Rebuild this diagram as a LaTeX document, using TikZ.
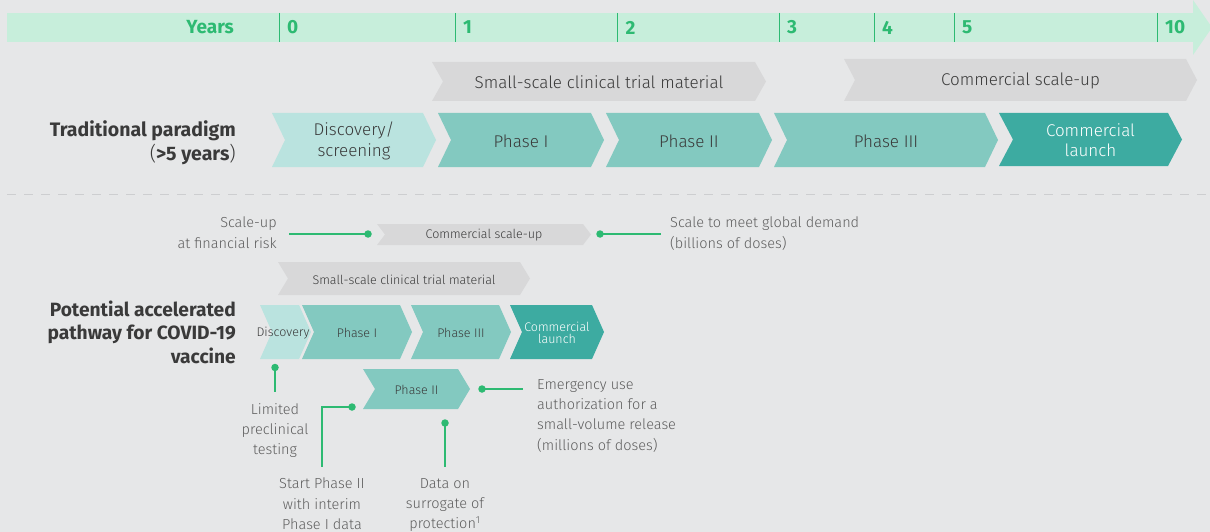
\documentclass[tikz,border=0pt]{standalone}
\usepackage{fontspec}
\setmainfont{Fira Sans}[UprightFont={* Light},BoldFont={* Bold}]
\definecolor{bg}{HTML}{E6E7E8}
\definecolor{mint}{HTML}{C7EEDB}
\definecolor{grn}{HTML}{2DBA72}
\definecolor{chgray}{HTML}{D8D8D9}
\definecolor{disc}{HTML}{BAE3DF}
\definecolor{phase}{HTML}{83C9C0}
\definecolor{launch}{HTML}{3DABA1}
\definecolor{txt}{HTML}{3A3A3A}
\definecolor{lbl}{HTML}{5E5E5E}
\definecolor{dashc}{HTML}{CDCED0}
\newcommand{\chevron}[9]{%
  \fill[#7] (#2,#4) -- ({#3-#6},#4) -- (#3,{(#4+#5)/2}) -- ({#3-#6},#5) -- (#2,#5) -- ({#2+#6},{(#4+#5)/2}) -- cycle;
  \node[#8] (#1) at ({(#2+#3)/2},{(#4+#5)/2+1}) {#9};}
\tikzset{
  bigtxt/.style={text=txt,font=\fontsize{17}{21}\selectfont,align=center,inner sep=0pt},
  whitetxt/.style={text=white,font=\fontsize{17}{20}\selectfont,align=center,inner sep=0pt},
  smalltxt/.style={text=txt,font=\fontsize{12.5}{14}\selectfont,align=center,inner sep=0pt},
  smallwhite/.style={text=white,font=\fontsize{12.5}{14}\selectfont,align=center,inner sep=0pt},
  yearlbl/.style={text=grn,font=\bfseries\fontsize{19}{20}\selectfont,inner sep=0pt},
  tick/.style={draw=grn,line width=1pt},
  rowlbl/.style={text=txt,font=\fontsize{19.5}{24.5}\selectfont,align=right,inner sep=0pt},
  note/.style={text=lbl,font=\fontsize{14.5}{20.3}\selectfont,inner sep=0pt},
  gline/.style={draw=grn,line width=1.2pt},
  gdot/.style={circle,fill=grn,inner sep=0pt,minimum size=7.5pt},
}
\begin{document}
\begin{tikzpicture}[x=1pt,y=-1pt]
\useasboundingbox (0,0) rectangle (1210,532);
\fill[bg] (0,0) rectangle (1210,532);
% timeline bar
\fill[mint] (7,13) rectangle (1194,42);
\fill[mint] (1193,0) -- (1212,27.5) -- (1193,55) -- cycle;
\node[yearlbl,anchor=east] (years) at (234,27.5) {Years};
\foreach \x/\l/\n in {279/0/t0,455/1/t1,617.5/2/t2,779/3/t3,874/4/t4,954/5/t5,1157/10/t10}{
  \draw[tick] (\x,13) -- (\x,42);
  \node[yearlbl,anchor=west] (\n) at (\x+8,27.5) {\l};
}
% traditional paradigm
\chevron{tss}{432}{766}{62}{101}{11}{chgray}{bigtxt}{Small-scale clinical trial material}
\chevron{tcs}{844}{1197}{59}{101}{11}{chgray}{bigtxt}{Commercial scale-up}
\node[rowlbl,anchor=east] (trad) at (236,143) {\textbf{Traditional paradigm}\\(\textbf{>5 years})};
\chevron{tdisc}{272}{436}{113}{167}{13}{disc}{bigtxt}{Discovery/\\screening}
\chevron{tp1}{438}{604}{113}{167}{13}{phase}{bigtxt}{Phase I}
\chevron{tp2}{606}{772}{113}{167}{13}{phase}{bigtxt}{Phase II}
\chevron{tp3}{774}{998}{113}{167}{13}{phase}{bigtxt}{Phase III}
\chevron{tcl}{999}{1182}{113}{166}{14}{launch}{whitetxt}{Commercial\\launch}
% divider
\draw[dashc,line width=1.2pt,dash pattern=on 9pt off 8pt] (7,194.5) -- (1210,194.5);
% accelerated pathway
\node[note,anchor=north east,align=right] (scaleup) at (277,217) {Scale-up\\at financial risk};
\coordinate (su) at (289,234);
\node[gdot] (d1) at (368,234) {};
\draw[gline] (su) -- (d1.center);
\chevron{acs}{377}{591}{224}{245}{8}{chgray}{smalltxt}{Commercial scale-up}
\node[gdot] (d2) at (600,234) {};
\coordinate (sg) at (661,234);
\draw[gline] (d2.center) -- (sg);
\node[note,anchor=north west,align=left] (global) at (670,217) {Scale to meet global demand\\(billions of doses)};
\chevron{ass}{278}{530}{262}{295}{10}{chgray}{smalltxt}{Small-scale clinical trial material}
\node[rowlbl,anchor=east,font=\bfseries\fontsize{19.2}{23.5}\selectfont] (pot) at (236,332) {Potential accelerated\\pathway for COVID-19\\vaccine};
\chevron{adisc}{260}{311}{305}{359}{12}{disc}{smalltxt}{}
\chevron{ap1}{302}{412}{305}{359}{12}{phase}{smalltxt}{Phase I}
\chevron{ap3}{411}{511}{305}{359}{12}{phase}{smalltxt}{Phase III}
\chevron{acl}{510}{604}{305}{359}{12}{launch}{smallwhite}{Commercial\\[-2pt]launch}
\node[smalltxt] (disclbl) at (283,333) {Discovery};
\chevron{ap2}{363}{470}{369}{409}{12}{phase}{smalltxt}{Phase II}
% annotations
\node[gdot] (d3) at (275,367.5) {};
\coordinate (lp) at (275,392);
\draw[gline] (d3.center) -- (lp);
\node[note,anchor=north,align=center] (limited) at (275,403) {Limited\\preclinical\\testing};
\node[gdot] (d4) at (352,407) {};
\coordinate (sp) at (322,467);
\draw[gline] (d4.center) -| (sp);
\node[note,anchor=north,align=center] (startp2) at (322,478) {Start Phase II\\with interim\\Phase I data};
\node[gdot] (d5) at (445,423) {};
\coordinate (ds) at (445,467);
\draw[gline] (d5.center) -- (ds);
\node[note,anchor=north,align=center] (surr) at (445,478) {Data on\\surrogate of\\protection\textsuperscript{1}};
\node[gdot] (d6) at (482,389) {};
\coordinate (eu) at (523,389);
\draw[gline] (d6.center) -- (eu);
\node[note,anchor=north west,align=left] (emerg) at (537,379) {Emergency use\\authorization for a\\small-volume release\\(millions of doses)};
\end{tikzpicture}
\end{document}
